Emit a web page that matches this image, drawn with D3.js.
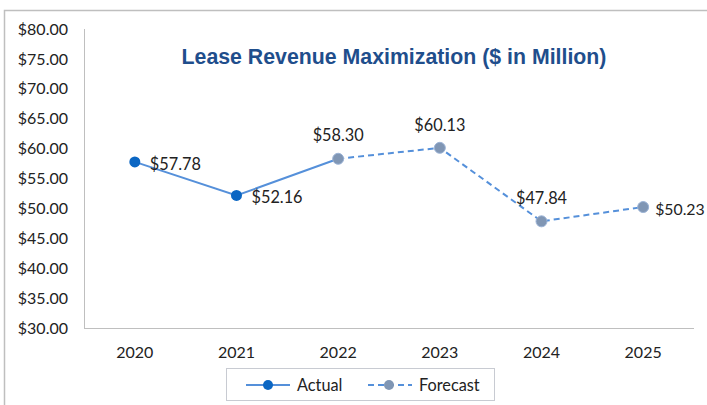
<!DOCTYPE html>
<html><head><meta charset="utf-8">
<script src="https://cdn.jsdelivr.net/npm/d3@7"></script>
<style>body{margin:0;background:#fff;} svg{display:block;}</style>
</head><body>
<script>
const years = ["2020","2021","2022","2023","2024","2025"];
const actual = [57.78, 52.16, 58.30];
const forecast = [null, null, 58.30, 60.13, 47.84, 50.23];
const labels = [57.78, 52.16, 58.30, 60.13, 47.84, 50.23];
const yTicks = [30,35,40,45,50,55,60,65,70,75,80];

const W=707,H=405;
const svg=d3.select("body").append("svg").attr("width",W).attr("height",H);
const font="Lato, 'Open Sans', sans-serif";
svg.append("path").attr("d","M4.5,420 V10.5 H720").attr("fill","none").attr("stroke","#bfbfbf").attr("stroke-width",1.5);

const x=d3.scaleBand().domain(years).range([84,694]);
const y=d3.scaleLinear().domain([30,80]).range([328,29]);

svg.append("line").attr("x1",84.5).attr("x2",84.5).attr("y1",y(80)).attr("y2",y(30)).attr("stroke","#bfbfbf");
svg.append("line").attr("x1",84).attr("x2",694).attr("y1",y(30)+0.5).attr("y2",y(30)+0.5).attr("stroke","#bfbfbf");

const fmt=v=>"$"+v.toFixed(2);
svg.append("g").selectAll("text").data(yTicks).join("text")
 .attr("x",68).attr("y",d=>y(d)).attr("dy","0.35em").attr("text-anchor","end")
 .attr("font-family",font).attr("font-size",16).attr("fill","#222").text(fmt);
svg.append("g").selectAll("text").data(years).join("text")
 .attr("x",d=>x(d)+x.bandwidth()/2).attr("y",352).attr("dy","0.35em").attr("text-anchor","middle")
 .attr("font-family",font).attr("font-size",16).attr("fill","#222").text(d=>d);

svg.append("text").attr("x",394).attr("y",57).attr("dy","0.35em").attr("text-anchor","middle")
 .attr("font-family","'Liberation Sans', Arial, sans-serif").attr("font-weight","bold").attr("font-size",21.3)
 .attr("fill","#1f4e8c").text("Lease Revenue Maximization ($ in Million)");

const cx=i=>x(years[i])+x.bandwidth()/2;
const line=d3.line().defined(d=>d!=null).x((d,i)=>cx(i)).y(d=>y(d));
svg.append("path").datum(forecast).attr("d",line).attr("fill","none").attr("stroke","#5590da").attr("stroke-width",2).attr("stroke-dasharray","6,4");
svg.append("path").datum(actual).attr("d",line).attr("fill","none").attr("stroke","#5590da").attr("stroke-width",2);

svg.append("g").selectAll("circle").data(forecast.map((v,i)=>[v,i]).filter(d=>d[0]!=null)).join("circle")
 .attr("cx",d=>cx(d[1])).attr("cy",d=>y(d[0])).attr("r",5.5).attr("fill","#8096b4").attr("stroke","#9bb3d6").attr("stroke-width",1);
svg.append("g").selectAll("circle").data(actual.slice(0,2)).join("circle")
 .attr("cx",(d,i)=>cx(i)).attr("cy",d=>y(d)).attr("r",5.5).attr("fill","#0b66c3");

const pos=["r","r","t","t","t","r"];
svg.append("g").selectAll("text").data(labels).join("text")
 .attr("x",(d,i)=>pos[i]==="r"?cx(i)+(i===5?12:15):cx(i))
 .attr("y",(d,i)=>pos[i]==="r"?y(d)+2:y(d)-23)
 .attr("dy","0.35em").attr("text-anchor",(d,i)=>pos[i]==="r"?"start":"middle")
 .attr("font-family",font).attr("font-size",(d,i)=>i===5?15.8:16.3).attr("fill","#222").text(fmt);

const lg=svg.append("g");
lg.append("rect").attr("x",226.5).attr("y",368.5).attr("width",268).attr("height",32).attr("fill","#fff").attr("stroke","#c8cbd2");
lg.append("line").attr("x1",246).attr("x2",290).attr("y1",385).attr("y2",385).attr("stroke","#5590da").attr("stroke-width",2);
lg.append("circle").attr("cx",268).attr("cy",385).attr("r",5).attr("fill","#0b66c3");
lg.append("text").attr("x",297).attr("y",385).attr("dy","0.35em").attr("font-family",font).attr("font-size",16.3).attr("fill","#222").text("Actual");
lg.append("line").attr("x1",368).attr("x2",412).attr("y1",385).attr("y2",385).attr("stroke","#5590da").attr("stroke-width",2).attr("stroke-dasharray","6,4");
lg.append("circle").attr("cx",389).attr("cy",385).attr("r",5).attr("fill","#8096b4");
lg.append("text").attr("x",419).attr("y",385).attr("dy","0.35em").attr("font-family",font).attr("font-size",16.3).attr("fill","#222").text("Forecast");
</script>
</body></html>
